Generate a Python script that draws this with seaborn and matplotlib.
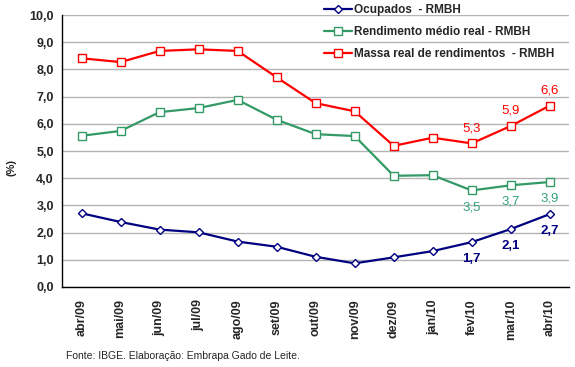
import pandas as pd
import matplotlib
matplotlib.use("Agg")
import matplotlib.pyplot as plt
import seaborn as sns

# Monthly series (%)
meses = ['abr/09', 'mai/09', 'jun/09', 'jul/09', 'ago/09', 'set/09', 'out/09',
         'nov/09', 'dez/09', 'jan/10', 'fev/10', 'mar/10', 'abr/10']
ocupados = [2.71, 2.39, 2.11, 2.01, 1.67, 1.48, 1.11, 0.87, 1.09, 1.32, 1.65, 2.13, 2.68]
rendimento = [5.56, 5.74, 6.43, 6.58, 6.88, 6.15, 5.62, 5.55, 4.09, 4.11, 3.55, 3.74, 3.86]
massa = [8.41, 8.27, 8.68, 8.74, 8.68, 7.71, 6.76, 6.46, 5.19, 5.49, 5.28, 5.92, 6.67]

# value labels shown for the last three months
rotulos_idx = [10, 11, 12]
rot_ocupados = ['1,7', '2,1', '2,7']
rot_rendimento = ['3,5', '3,7', '3,9']
rot_massa = ['5,3', '5,9', '6,6']

nomes = ['Ocupados  - RMBH', 'Rendimento médio real - RMBH', 'Massa real de rendimentos  - RMBH']
cores = ['#000080', '#339966', '#FF0000']
marcadores = ['D', 's', 's']

sns.set_style("white")
plt.rcParams['font.family'] = ['Liberation Sans', 'DejaVu Sans']

df = pd.DataFrame({'mes': meses, nomes[0]: ocupados, nomes[1]: rendimento, nomes[2]: massa})
longo = df.melt(id_vars='mes', var_name='serie', value_name='valor')

fig, ax = plt.subplots(figsize=(5.75, 3.67), dpi=100)
fig.subplots_adjust(left=0.108, right=0.99, bottom=0.218, top=0.959)

for nome, cor, mk in zip(nomes, cores, marcadores):
    sub = longo[longo['serie'] == nome]
    sns.lineplot(data=sub, x='mes', y='valor', ax=ax, color=cor, linewidth=1.6,
                 marker=mk, markersize=5.5 if mk == 's' else 4.5,
                 markerfacecolor='white', markeredgecolor=cor, markeredgewidth=1.0,
                 label=nome, sort=False)

ax.set_ylim(0, 10)
ax.set_xlim(-0.5, len(meses) - 0.5)
ax.set_yticks([i for i in range(11)])
ax.set_yticklabels([f'{i},0' for i in range(11)], fontsize=9, fontweight='bold')
ax.set_xticks(range(len(meses)))
ax.set_xticklabels(meses, rotation=90, fontsize=9, fontweight='bold')
ax.set_xticks([i - 0.5 for i in range(len(meses) + 1)], minor=True)
ax.tick_params(axis='x', which='major', length=0, pad=9)
ax.tick_params(axis='x', which='minor', length=5, width=1, color='black', direction='out')
ax.tick_params(axis='y', length=4, width=1, color='black', direction='out', pad=2)
ax.yaxis.grid(True, color='#b4b4b4', linewidth=1)
ax.set_axisbelow(True)
ax.set_xlabel('')
ax.set_ylabel('(%)', fontsize=8, fontweight='bold')
ax.yaxis.set_label_coords(-0.09, 0.44)
for s in ['top', 'right']:
    ax.spines[s].set_visible(False)
for s in ['left', 'bottom']:
    ax.spines[s].set_color('black')
    ax.spines[s].set_linewidth(1)

# value labels
estilos = [(ocupados, rot_ocupados, '#000080', -12, 'bold'),
           (rendimento, rot_rendimento, '#33A080', -12, 'normal'),
           (massa, rot_massa, '#FF0000', 11, 'normal')]
for serie, rots, cor, dy, peso in estilos:
    for i, txt in zip(rotulos_idx, rots):
        ax.annotate(txt, (i, serie[i]), xytext=(0, dy), textcoords='offset points',
                    ha='center', va='center', color=cor, fontsize=9.5, fontweight=peso)

ax.legend_.remove()
h, l = ax.get_legend_handles_labels()
fig.legend(h, l, loc='upper left', bbox_to_anchor=(0.545, 1.018), frameon=False,
           handlelength=2.4, handletextpad=0.1, labelspacing=0.85,
           prop={'weight': 'bold', 'size': 8.5})

fig.text(0.115, 0.022, 'Fonte: IBGE. Elaboração: Embrapa Gado de Leite.', fontsize=7.5)

fig.savefig('out.png', dpi=100)
